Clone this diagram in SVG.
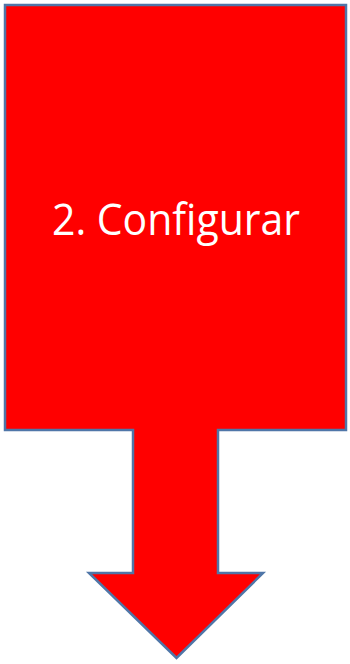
<svg xmlns="http://www.w3.org/2000/svg" width="350" height="664" viewBox="0 0 350 664">
<style>
.shape{fill:#ff0000;stroke:#4f76a8;stroke-width:2.5;stroke-linejoin:miter}
.label{fill:#ffffff;font-family:"Open Sans","Liberation Sans",sans-serif;font-size:44px}
</style>
<g id="callout">
<path class="shape" d="M5,5 H346 V430 H218 V573 H263 L176.5,658 L89,573 H133 V430 H5 Z"/>
<text class="label" x="176" y="235" text-anchor="middle" textLength="248" lengthAdjust="spacingAndGlyphs">2. Configurar</text>
</g>
</svg>
